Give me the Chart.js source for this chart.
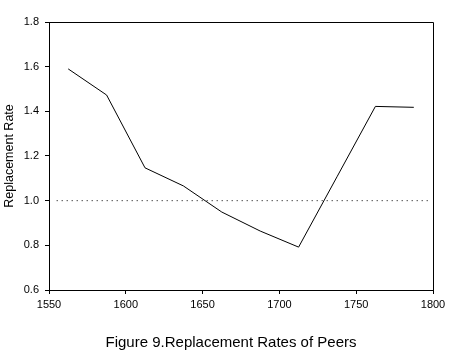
<!DOCTYPE html>
<html>
<head>
<meta charset="utf-8">
<script src="https://cdn.jsdelivr.net/npm/chart.js@4"></script>
<style>
  html, body { margin: 0; padding: 0; background: #fff; }
  canvas { display: block; }
</style>
</head>
<body>
<canvas id="myChart" width="454" height="352"></canvas>
<script>
const years = [1562.5, 1587.5, 1612.5, 1637.5, 1662.5, 1687.5, 1712.5, 1737.5, 1762.5, 1787.5];
const rates = [1.59, 1.473, 1.147, 1.066, 0.949, 0.864, 0.792, 1.107, 1.422, 1.418];
const refYears = [1555, 1797];
const refRate = [1.0, 1.0];
const chartTitle = 'Figure 9.Replacement Rates of Peers';
const yTitle = 'Replacement Rate';

const FONT = "'Liberation Sans', Arial, sans-serif";

const toPoints = (xs, ys) => xs.map((x, i) => ({ x: x, y: ys[i] }));

// box around the plot plus the caption under it
const frame = {
  id: 'frame',
  afterDraw(chart) {
    const { ctx, chartArea: a } = chart;
    ctx.save();
    ctx.strokeStyle = '#000';
    ctx.lineWidth = 1;
    ctx.beginPath();
    ctx.moveTo(Math.round(a.left) + 0.5, Math.round(a.top) + 0.5);
    ctx.lineTo(Math.round(a.right) + 0.5, Math.round(a.top) + 0.5);
    ctx.lineTo(Math.round(a.right) + 0.5, Math.round(a.bottom) + 0.5);
    ctx.stroke();
    ctx.fillStyle = '#000';
    ctx.font = '15px ' + FONT;
    ctx.textAlign = 'center';
    ctx.textBaseline = 'alphabetic';
    ctx.fillText(chartTitle, 231, 347);
    ctx.restore();
  },
};

let ctx = document.getElementById('myChart').getContext('2d');
let myChart = new Chart(ctx, {
  type: 'line',
  data: {
    datasets: [
      {
        label: 'Rate',
        data: toPoints(years, rates),
        borderColor: '#000',
        borderWidth: 1,
        pointRadius: 0,
        tension: 0,
        fill: false,
      },
      {
        label: 'Parity',
        data: toPoints(refYears, refRate),
        borderColor: '#000',
        borderWidth: 1,
        borderDash: [1, 4],
        pointRadius: 0,
        fill: false,
      },
    ],
  },
  options: {
    responsive: false,
    animation: false,
    events: [],
    layout: { padding: { left: 0, top: 22, right: 21, bottom: 0 } },
    plugins: {
      legend: { display: false },
      tooltip: { enabled: false },
      title: { display: false },
    },
    scales: {
      x: {
        type: 'linear',
        min: 1550,
        max: 1800,
        afterFit: (scale) => { scale.height = 62; },
        ticks: {
          stepSize: 50,
          color: '#000',
          padding: 4,
          font: { family: FONT, size: 11 },
          maxRotation: 0,
          callback: (v) => String(v),
        },
        grid: { drawOnChartArea: false, drawTicks: true, tickLength: 4, color: '#000' },
        border: { color: '#000', width: 1 },
      },
      y: {
        min: 0.6,
        max: 1.8,
        afterFit: (scale) => { scale.width = 49; },
        ticks: {
          stepSize: 0.2,
          color: '#000',
          padding: 6,
          font: { family: FONT, size: 11 },
          callback: (v) => Number(v).toFixed(1),
        },
        title: {
          display: true,
          text: yTitle,
          color: '#000',
          font: { family: FONT, size: 12.5 },
          padding: { top: 2, bottom: 0 },
        },
        grid: { drawOnChartArea: false, drawTicks: true, tickLength: 4, color: '#000' },
        border: { color: '#000', width: 1 },
      },
    },
  },
  plugins: [frame],
});
</script>
</body>
</html>
